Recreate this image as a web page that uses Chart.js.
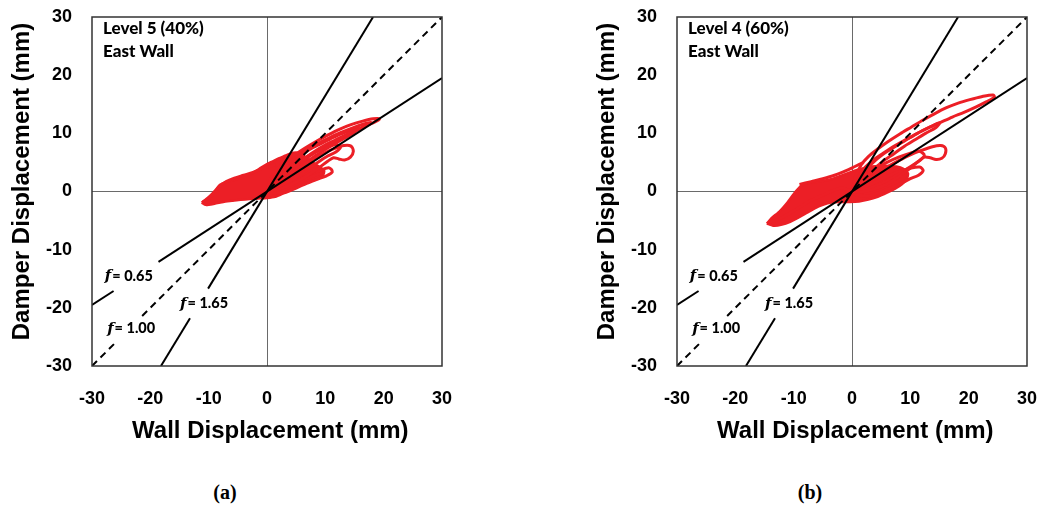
<!DOCTYPE html>
<html><head><meta charset="utf-8">
<script src="https://cdn.jsdelivr.net/npm/chart.js@4.4.1/dist/chart.umd.min.js"></script>
<style>
html,body{margin:0;padding:0;background:#fff;width:1042px;height:506px;overflow:hidden;}
canvas{position:absolute;top:0;}
#ca{left:0;} #cb{left:585px;}
.cap{position:absolute;top:480px;font:bold 20px 'Liberation Serif','Times New Roman',serif;line-height:24px;width:60px;text-align:center;color:#000;}
</style></head><body>
<canvas id="ca" width="460" height="460"></canvas>
<canvas id="cb" width="455" height="460"></canvas>
<div class="cap" style="left:195px">(a)</div>
<div class="cap" style="left:780px">(b)</div>
<script>
// ---- axis ticks ----
const tickValues = [-30, -20, -10, 0, 10, 20, 30];
const xTitle = 'Wall Displacement (mm)';
const yTitle = 'Damper Displacement (mm)';

// ---- reference lines (damper = f * wall), drawn in pieces with label gaps ----
const f065a = [[-30, -19.5], [-26.3, -17.1]];
const f065b = [[-18.6, -12.1], [30, 19.5]];
const f100a = [[-30, -30], [-26.1, -26.1]];
const f100b = [[-21.4, -21.4], [30, 30]];
const f165a = [[-18.18, -30], [-13.2, -21.8]];
const f165b = [[-10.1, -16.7], [18.18, 30]];

// ---- panel (a): Level 5 (40%) East Wall ----
const blobA = [[-11.2,-1.9],[-10.4,-1.3],[-9.6,-0.6],[-8.8,0.3],[-8,1.2],[-7,1.6],[-6,1.9],[-5,2.2],[-4,2.5],[-3,2.9],[-2,3.4],[-1,4.1],[0,4.7],[1,5.2],[2,5.7],[3,6.1],[4,6.5],[5,6.7],[6,6.3],[7,5.6],[8,4.9],[9,4.2],[9.8,3.6],[9.6,2.8],[8.6,2.4],[7.4,2],[6.2,1.4],[5,0.8],[3.8,0.2],[2.6,-0.4],[1.4,-0.9],[0,-1.1],[-1.5,-1.2],[-3,-1.3],[-4.5,-1.4],[-6,-1.6],[-7.5,-1.8],[-9,-2.1],[-10.5,-2.3],[-11.2,-1.9]];
const loopA1 = [[0,0],[0.6,2.2],[1.6,3.8],[3,5],[4.6,6.2],[6.4,7.4],[8.4,8.6],[10.4,9.7],[12.4,10.7],[14.4,11.5],[16.4,12.1],[18.2,12.5],[19.3,12.5],[18.6,12],[17,11.3],[15.2,10.5],[13.4,9.7],[11.6,8.8],[9.8,7.9],[8,6.8],[6.2,5.5],[4.4,4.1],[2.6,2.6],[1.2,1.2],[0,0]];
const loopA2 = [[0,0.3],[1.2,3],[2.8,4.6],[4.6,5.9],[6.6,7.1],[8.6,8.2],[10.6,9.2],[12.6,10.1],[14.6,10.9],[16.6,11.6],[17.8,11.9],[16.8,11.2],[15,10.3],[13,9.3],[11,8.3],[9,7.2],[7,5.9],[5,4.5],[3,3],[1.4,1.6],[0,0.3]];
const loopA3 = [[0,0],[1.8,1.6],[3.8,3],[5.8,4.3],[7.8,5.5],[9.8,6.6],[11.6,7.4],[13.2,7.9],[14.4,7.8],[14.8,6.9],[14.3,5.9],[13.3,5.4],[12.3,5.6],[11.4,5.8],[10.4,5.2],[9.2,4.3],[7.8,3.3],[6.2,2.3],[4.4,1.3],[2.4,0.5],[0,0]];
const loopA4 = [[0,0.8],[2,2.8],[4,4.3],[6,5.5],[8,6.6],[10,7.5],[11.8,8.1],[12.6,7.6],[11.8,6.8],[10.4,6.1],[9,5.2],[7.6,4.2],[6,3.1],[4.2,2],[2.2,1],[0,0.8]];
const loopA5 = [[1,-0.2],[3,0.8],[5,1.8],[7,2.8],[9,3.6],[10.6,4.1],[11.2,3.4],[10.2,2.7],[8.6,2.1],[6.8,1.4],[5,0.6],[3,-0.2],[1,-0.2]];
const loopA6 = [[-11,-1.8],[-9.5,-0.8],[-8.2,0.8],[-7,1.7],[-5.6,2.3],[-4,2.8],[-2.4,3.3],[-1,3.9],[0,4.2],[1.5,4.6]];
const loopA7 = [[0,0.2],[2,3.4],[4,5.1],[6,6.4],[8,7.6],[10,8.6],[12,9.6],[14,10.4],[15.6,11],[15,10.2],[13.2,9.1],[11.4,8.1],[9.6,7],[7.8,5.8],[6,4.6],[4,3.3],[2,1.8],[0,0.2]];

// ---- panel (b): Level 4 (60%) East Wall ----
const blobB = [[-14.6,-5.5],[-13.4,-5.9],[-12,-5.7],[-10.6,-5.2],[-9.2,-4.5],[-7.8,-3.7],[-6.4,-2.9],[-5,-2.3],[-3.6,-1.9],[-2,-1.8],[-0.4,-1.8],[1.2,-1.7],[2.8,-1.4],[4.4,-0.9],[6,-0.2],[7.4,0.5],[8.6,1.3],[9.4,2.2],[9.6,3.1],[8.8,3.9],[7.6,4.3],[6.2,4.4],[4.8,4.4],[3.4,4.3],[2,4],[0.6,3.6],[-0.8,3.1],[-2.2,2.6],[-3.6,2.1],[-5,1.8],[-6.4,1.6],[-7.8,1.4],[-8.8,0.9],[-9.8,-0.2],[-11,-1.8],[-12.4,-3.4],[-13.8,-4.6],[-14.6,-5.5]];
const loopB1 = [[0,0],[0.6,2.6],[1.6,4.6],[2.8,6],[4.4,7.3],[6.2,8.6],[8.2,9.9],[10.2,11.1],[12.2,12.3],[14.2,13.4],[16.2,14.4],[18.2,15.2],[20.2,15.8],[22.2,16.3],[24.2,16.6],[24.4,16.2],[23,15.4],[21.2,14.5],[19.2,13.6],[17.2,12.8],[15.2,11.9],[13.2,11],[11.2,10],[9.2,8.8],[7.2,7.6],[5.2,6.3],[3.4,4.8],[1.8,3.1],[0.6,1.4],[0,0]];
const loopB2 = [[0,0],[2,1.6],[4,3],[6,4.2],[8,5.3],[10,6.3],[12,7.1],[13.8,7.7],[15.2,7.9],[16,7.5],[16,6.5],[15.4,5.7],[14.4,5.5],[13.4,5.8],[12.4,5.9],[11.4,5.2],[10.2,4.2],[8.8,3.1],[7.2,2],[5.4,1],[3.4,0.3],[1.4,-0.1],[0,0]];
const loopB3 = [[0,0.6],[2,2.6],[4,3.9],[6,5],[8,5.9],[10,6.6],[11.6,6.9],[12.4,6.2],[11.6,5.3],[10.2,4.4],[8.8,3.5],[7.2,2.5],[5.4,1.5],[3.4,0.7],[1.4,0.3],[0,0.6]];
const loopB4 = [[-14.4,-5.4],[-12.6,-4.8],[-10.8,-3.8],[-9,-2.7],[-7.2,-1.6],[-5.4,-0.8],[-3.6,0],[-1.8,0.6],[0,0]];
const loopB5 = [[-9,1.2],[-7,1.7],[-5,2.2],[-3,2.8],[-1,3.6],[0.5,4.3],[2,5]];
const loopB6 = [[0,-0.4],[2,0.6],[4,1.6],[6,2.6],[8,3.4],[10,4],[11.6,4.2],[12.2,3.6],[11.4,2.8],[10,2.2],[8.4,1.4],[6.6,0.6],[4.6,-0.2],[2.4,-0.8],[0,-0.4]];
const loopB7 = [[0,0.3],[1.6,3.4],[3.4,5.2],[5.4,6.6],[7.4,7.9],[9.4,9],[11.4,10.1],[13.4,11.1],[15,11.8],[14.4,11],[12.6,10],[10.8,8.9],[9,7.8],[7.2,6.5],[5.2,5.1],[3.2,3.4],[1.4,1.6],[0,0.3]];

// ---- texts ----
const headA = ['Level 5 (40%)', 'East Wall'];
const headB = ['Level 4 (60%)', 'East Wall'];
const fNames = ['0.65', '1.65', '1.00'];

const RED = '#ec1f26';
const pts = a => a.map(p => ({x: p[0], y: p[1]}));

function refSets() {
  const solid = {borderColor: '#000', borderWidth: 2, pointRadius: 0, showLine: true, order: 0, fill: false};
  const dashed = Object.assign({}, solid, {borderDash: [7, 5]});
  return [
    Object.assign({data: pts(f065a)}, solid), Object.assign({data: pts(f065b)}, solid),
    Object.assign({data: pts(f165a)}, solid), Object.assign({data: pts(f165b)}, solid),
    Object.assign({data: pts(f100a)}, dashed), Object.assign({data: pts(f100b)}, dashed)
  ];
}
function redSets(blob, loops) {
  const out = [{data: pts(blob), showLine: true, borderColor: RED, backgroundColor: RED, borderWidth: 2.5, pointRadius: 0, fill: 'shape', tension: 0.2, order: 2}];
  loops.forEach(l => out.push({data: pts(l), showLine: true, borderColor: RED, borderWidth: 3, pointRadius: 0, fill: false, tension: 0.3, order: 1}));
  return out;
}

const notesPlugin = {
  id: 'notes',
  afterDatasetsDraw(chart, args, opts) {
    const {ctx, chartArea: a, scales: {x, y}} = chart;
    ctx.save();
    ctx.strokeStyle = '#333'; ctx.lineWidth = 1.5;
    ctx.strokeRect(a.left, a.top, a.right - a.left, a.bottom - a.top);
    ctx.fillStyle = '#000'; ctx.textBaseline = 'middle'; ctx.textAlign = 'left';
    ctx.font = "900 17px Lato, 'Open Sans', sans-serif";
    ctx.fillText(opts.head[0], x.getPixelForValue(-28.1), y.getPixelForValue(28.0));
    ctx.fillText(opts.head[1], x.getPixelForValue(-28.1), y.getPixelForValue(24.1));
    const pos = [[-27.8, -14.6], [-14.9, -19.3], [-27.4, -23.6]];
    opts.fNames.forEach((t, i) => {
      const px = x.getPixelForValue(pos[i][0]), py = y.getPixelForValue(pos[i][1]);
      ctx.font = "italic bold 15px 'DejaVu Serif', serif";
      ctx.fillText('f', px, py);
      const w = ctx.measureText('f').width;
      ctx.font = "900 14.5px Lato, 'Open Sans', sans-serif";
      ctx.fillText('= ' + t, px + w + 1, py);
    });
    ctx.restore();
  }
};

function makeChart(id, blob, loops, head, padRight) {
  const tickFont = {family: "'Liberation Sans', Arial, sans-serif", size: 18, weight: 'bold'};
  const titleFont = {family: "'Liberation Sans', Arial, sans-serif", size: 24, weight: 'bold'};
  const gridColor = c => (c.tick && c.tick.value === 0) ? '#6a6a6a' : 'rgba(0,0,0,0)';
  return new Chart(document.getElementById(id), {
    type: 'scatter',
    data: {datasets: refSets().concat(redSets(blob, loops))},
    options: {
      responsive: false, animation: false, devicePixelRatio: 1,
      layout: {padding: {top: 17, right: padRight, left: 0, bottom: 0}},
      plugins: {legend: {display: false}, tooltip: {enabled: false}, notes: {head: head, fNames: fNames}},
      scales: {
        x: {
          type: 'linear', min: -30, max: 30,
          afterBuildTicks: s => { s.ticks = tickValues.map(v => ({value: v})); },
          afterFit: s => { s.height = 94; s.paddingLeft = 0; s.paddingRight = 0; },
          ticks: {font: tickFont, color: '#000', padding: 22, maxRotation: 0},
          grid: {drawTicks: false, color: gridColor, lineWidth: 1},
          border: {display: false},
          title: {display: true, text: ' ' + xTitle, font: titleFont, color: '#000', padding: {top: 0, bottom: 14}}
        },
        y: {
          type: 'linear', min: -30, max: 30,
          afterBuildTicks: s => { s.ticks = tickValues.map(v => ({value: v})); },
          afterFit: s => { s.width = 92; s.paddingTop = 0; s.paddingBottom = 0; },
          ticks: {font: tickFont, color: '#000', padding: 20},
          grid: {drawTicks: false, color: gridColor, lineWidth: 1},
          border: {display: false},
          title: {display: true, text: '\u00a0\u00a0\u00a0' + yTitle, font: titleFont, color: '#000', padding: {top: 8, bottom: 0}}
        }
      }
    },
    plugins: [notesPlugin]
  });
}

makeChart('ca', blobA, [loopA1, loopA2, loopA3, loopA4, loopA5, loopA6, loopA7], headA, 18);
makeChart('cb', blobB, [loopB1, loopB2, loopB3, loopB4, loopB5, loopB6, loopB7], headB, 13);
</script>
</body></html>
